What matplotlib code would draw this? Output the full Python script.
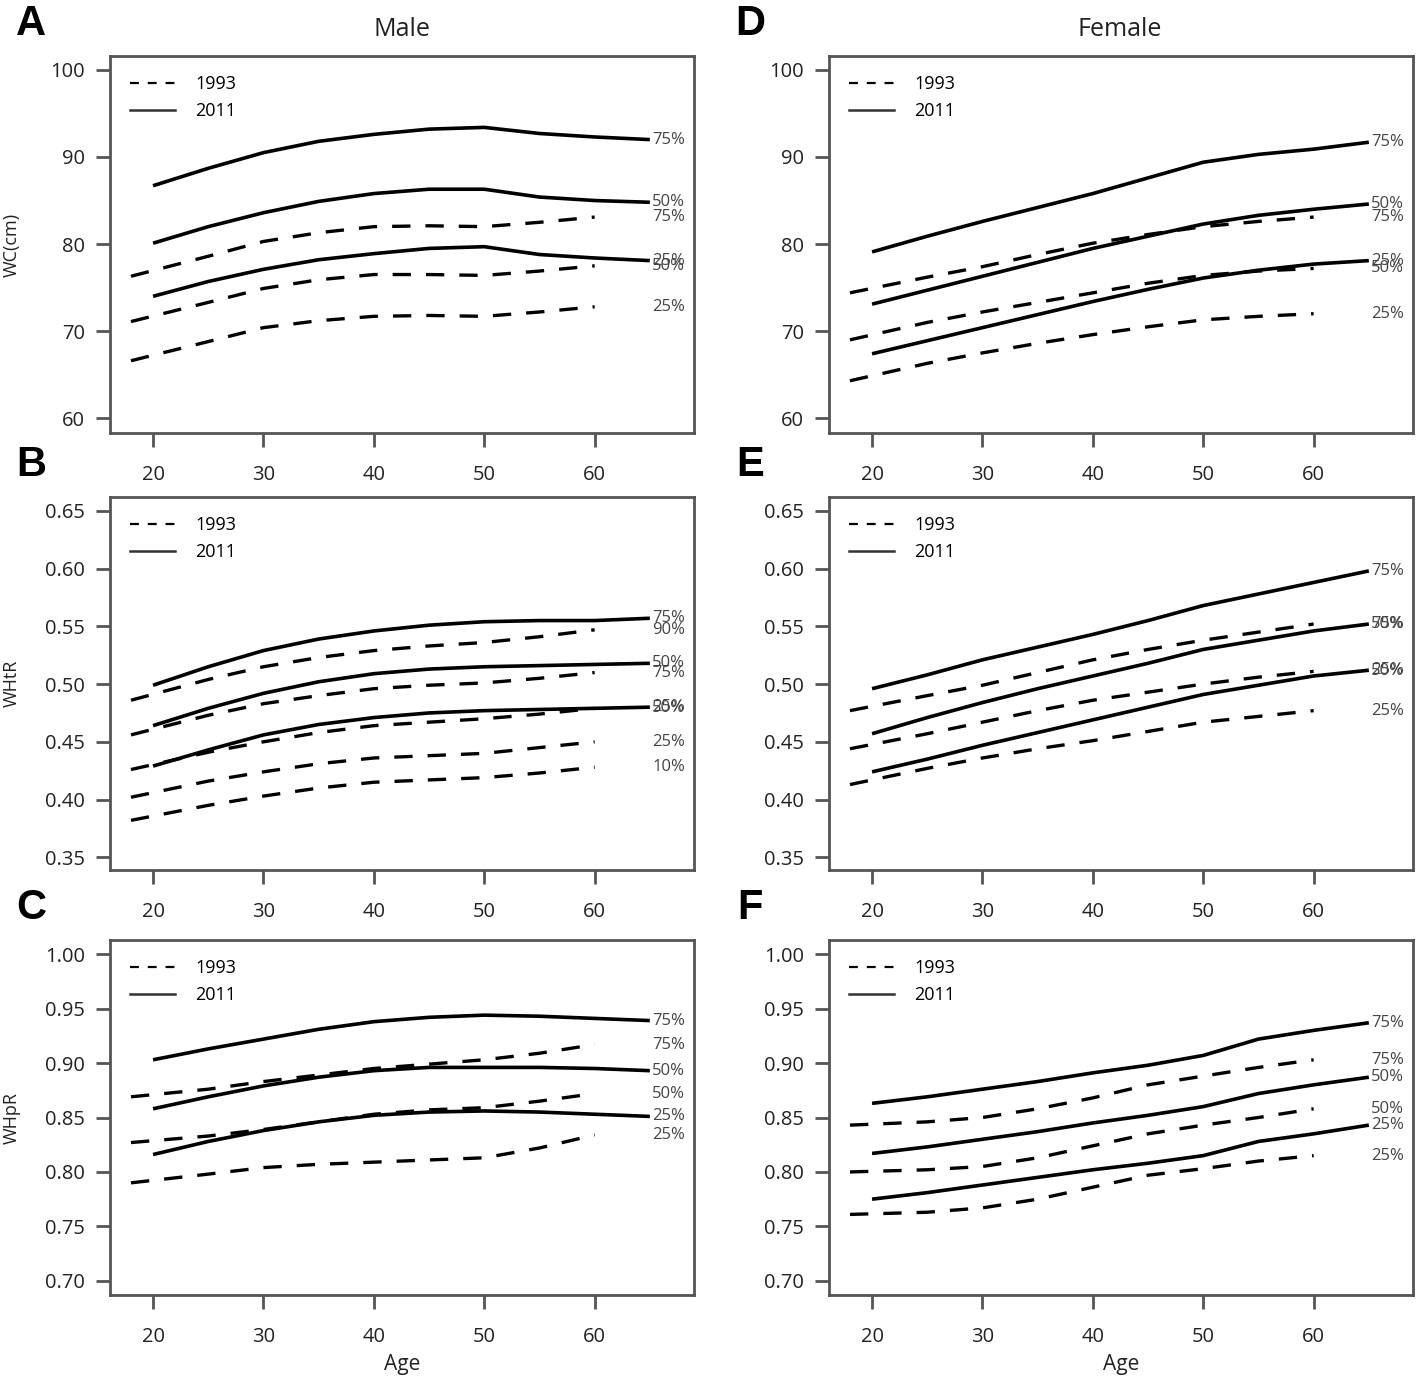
import matplotlib
matplotlib.use('Agg')
import matplotlib.pyplot as plt
from matplotlib.lines import Line2D

plt.rcParams['font.family'] = ['Open Sans', 'DejaVu Sans']

ages_2011 = [20, 25, 30, 35, 40, 45, 50, 55, 60, 65]
ages_1993 = [18, 25, 30, 35, 40, 45, 50, 55, 60]

# A: male waist circumference (cm)
male_wc_2011 = {
    '75%': [86.7, 88.7, 90.5, 91.8, 92.6, 93.2, 93.4, 92.7, 92.3, 92.0],
    '50%': [80.1, 82.0, 83.6, 84.9, 85.8, 86.3, 86.3, 85.4, 85.0, 84.8],
    '25%': [74.0, 75.7, 77.1, 78.2, 78.9, 79.5, 79.7, 78.8, 78.4, 78.1],
}
male_wc_1993 = {
    '75%': [76.3, 78.6, 80.3, 81.3, 82.0, 82.1, 82.0, 82.5, 83.1],
    '50%': [71.1, 73.3, 74.9, 75.9, 76.5, 76.5, 76.4, 76.9, 77.5],
    '25%': [66.6, 68.8, 70.4, 71.2, 71.7, 71.8, 71.7, 72.2, 72.8],
}

# B: male waist-to-height ratio
male_whtr_2011 = {
    '75%': [0.499, 0.515, 0.529, 0.539, 0.546, 0.551, 0.554, 0.555, 0.555, 0.557],
    '50%': [0.464, 0.479, 0.492, 0.502, 0.509, 0.513, 0.515, 0.516, 0.517, 0.518],
    '25%': [0.429, 0.443, 0.456, 0.465, 0.471, 0.475, 0.477, 0.478, 0.479, 0.480],
}
male_whtr_1993 = {
    '90%': [0.486, 0.504, 0.515, 0.523, 0.529, 0.533, 0.536, 0.541, 0.547],
    '75%': [0.456, 0.473, 0.483, 0.490, 0.496, 0.499, 0.501, 0.505, 0.510],
    '50%': [0.426, 0.441, 0.450, 0.458, 0.464, 0.467, 0.470, 0.474, 0.479],
    '25%': [0.402, 0.416, 0.424, 0.431, 0.436, 0.438, 0.440, 0.445, 0.450],
    '10%': [0.382, 0.395, 0.403, 0.410, 0.415, 0.417, 0.419, 0.423, 0.428],
}

# C: male waist-to-hip ratio
male_whpr_2011 = {
    '75%': [0.903, 0.913, 0.922, 0.931, 0.938, 0.942, 0.944, 0.943, 0.941, 0.939],
    '50%': [0.858, 0.869, 0.879, 0.887, 0.893, 0.896, 0.896, 0.896, 0.895, 0.893],
    '25%': [0.816, 0.828, 0.838, 0.846, 0.852, 0.855, 0.856, 0.855, 0.853, 0.851],
}
male_whpr_1993 = {
    '75%': [0.869, 0.876, 0.883, 0.889, 0.895, 0.899, 0.903, 0.909, 0.917],
    '50%': [0.827, 0.833, 0.839, 0.846, 0.853, 0.857, 0.859, 0.865, 0.872],
    '25%': [0.790, 0.798, 0.804, 0.807, 0.809, 0.811, 0.813, 0.822, 0.834],
}

# D: female waist circumference (cm)
female_wc_2011 = {
    '75%': [79.1, 80.9, 82.6, 84.2, 85.8, 87.6, 89.4, 90.3, 90.9, 91.7],
    '50%': [73.1, 74.7, 76.3, 77.9, 79.5, 80.9, 82.3, 83.3, 84.0, 84.6],
    '25%': [67.4, 68.9, 70.4, 71.9, 73.4, 74.8, 76.1, 77.0, 77.7, 78.1],
}
female_wc_1993 = {
    '75%': [74.4, 76.2, 77.4, 78.8, 80.1, 81.1, 82.0, 82.6, 83.1],
    '50%': [69.0, 71.0, 72.2, 73.3, 74.4, 75.5, 76.4, 76.9, 77.2],
    '25%': [64.3, 66.3, 67.5, 68.6, 69.6, 70.5, 71.3, 71.7, 72.0],
}

# E: female waist-to-height ratio
female_whtr_2011 = {
    '75%': [0.496, 0.508, 0.521, 0.532, 0.543, 0.555, 0.568, 0.578, 0.588, 0.598],
    '50%': [0.457, 0.471, 0.484, 0.496, 0.507, 0.518, 0.530, 0.538, 0.546, 0.552],
    '25%': [0.424, 0.435, 0.447, 0.458, 0.469, 0.480, 0.491, 0.499, 0.507, 0.512],
}
female_whtr_1993 = {
    '75%': [0.477, 0.490, 0.499, 0.510, 0.521, 0.530, 0.538, 0.545, 0.552],
    '50%': [0.444, 0.457, 0.467, 0.477, 0.486, 0.493, 0.500, 0.506, 0.511],
    '25%': [0.413, 0.427, 0.436, 0.444, 0.451, 0.459, 0.467, 0.472, 0.477],
}

# F: female waist-to-hip ratio
female_whpr_2011 = {
    '75%': [0.863, 0.869, 0.876, 0.883, 0.891, 0.898, 0.907, 0.922, 0.930, 0.937],
    '50%': [0.817, 0.823, 0.830, 0.837, 0.845, 0.852, 0.860, 0.872, 0.880, 0.887],
    '25%': [0.775, 0.781, 0.788, 0.795, 0.802, 0.808, 0.815, 0.828, 0.835, 0.843],
}
female_whpr_1993 = {
    '75%': [0.843, 0.846, 0.850, 0.858, 0.868, 0.880, 0.888, 0.896, 0.903],
    '50%': [0.800, 0.802, 0.805, 0.813, 0.824, 0.835, 0.843, 0.850, 0.858],
    '25%': [0.761, 0.763, 0.767, 0.775, 0.786, 0.797, 0.803, 0.810, 0.815],
}

x_ticks = [20, 30, 40, 50, 60]
wc_ticks = [60, 70, 80, 90, 100]
whtr_ticks = [0.35, 0.40, 0.45, 0.50, 0.55, 0.60, 0.65]
whpr_ticks = [0.70, 0.75, 0.80, 0.85, 0.90, 0.95, 1.00]


def draw_panel(ax, s2011, s1993, yticks, ylim, fmt):
    '''one panel: solid 2011 curves, dashed 1993 curves, end labels'''
    for lab, vals in s1993.items():
        ax.plot(ages_1993, vals, color='black', lw=2.4, linestyle=(0, (5.5, 4.5)),
                solid_capstyle='butt', dash_capstyle='butt')
        ax.text(65.2, vals[-1], lab, fontsize=12, color='#444444',
                ha='left', va='center', clip_on=False)
    for lab, vals in s2011.items():
        ax.plot(ages_2011, vals, color='black', lw=2.6, solid_capstyle='butt')
        ax.text(65.2, vals[-1], lab, fontsize=12, color='#444444',
                ha='left', va='center', clip_on=False)

    ax.set_xlim(16.1, 69.0)
    ax.set_ylim(*ylim)
    ax.set_xticks(x_ticks)
    ax.set_yticks(yticks)
    ax.set_yticklabels([fmt.format(t) for t in yticks])
    for sp in ax.spines.values():
        sp.set_linewidth(2.0)
        sp.set_color('#555555')
    ax.tick_params(axis='both', direction='out', length=10, width=2.0,
                   color='#555555', labelsize=14.5, labelcolor='#222222')
    ax.tick_params(axis='x', pad=13)
    ax.tick_params(axis='y', pad=8)

    handles = [Line2D([], [], color='black', lw=1.6, linestyle=(0, (4, 4))),
               Line2D([], [], color='#333333', lw=1.8)]
    ax.legend(handles, ['1993', '2011'], loc='upper left', frameon=False,
              fontsize=13, handlelength=2.5, handletextpad=1.1,
              borderaxespad=0.4, labelspacing=0.5, bbox_to_anchor=(0.01, 0.987))


def main():
    fig = plt.figure(figsize=(14.18, 13.83), dpi=100)

    W, H = 1418.0, 1383.0
    lefts = [110, 829]
    width = 584
    rows = [(56, 433), (497, 870), (940, 1295)]

    panels = [
        (male_wc_2011, male_wc_1993, wc_ticks, (58.3, 101.6), '{:.0f}'),
        (male_whtr_2011, male_whtr_1993, whtr_ticks, (0.339, 0.662), '{:.2f}'),
        (male_whpr_2011, male_whpr_1993, whpr_ticks, (0.687, 1.013), '{:.2f}'),
        (female_wc_2011, female_wc_1993, wc_ticks, (58.3, 101.6), '{:.0f}'),
        (female_whtr_2011, female_whtr_1993, whtr_ticks, (0.339, 0.662), '{:.2f}'),
        (female_whpr_2011, female_whpr_1993, whpr_ticks, (0.687, 1.013), '{:.2f}'),
    ]
    letters = ['A', 'B', 'C', 'D', 'E', 'F']
    ylabels = ['WC(cm)', 'WHtR', 'WHpR']

    for i, (s2011, s1993, yt, yl, fmt) in enumerate(panels):
        col = i // 3
        row = i % 3
        top, bot = rows[row]
        ax = fig.add_axes([lefts[col] / W, 1 - bot / H, width / W, (bot - top) / H])
        draw_panel(ax, s2011, s1993, yt, yl, fmt)

        fig.text((lefts[col] - 79) / W, 1 - (top - 32) / H, letters[i],
                 fontsize=30, fontweight='bold', ha='center', va='center',
                 family=['Liberation Sans', 'DejaVu Sans'])
        if col == 0:
            fig.text(12 / W, 1 - (top + bot) / 2 / H, ylabels[row], fontsize=13,
                     rotation=90, ha='center', va='center', color='#222222')
        if row == 2:
            ax.set_xlabel('Age', fontsize=15, labelpad=5, color='#222222')

    fig.text(402 / W, 1 - 30 / H, 'Male', fontsize=18, ha='center', va='center',
             color='#222222')
    fig.text(1120 / W, 1 - 30 / H, 'Female', fontsize=18, ha='center', va='center',
             color='#222222')

    fig.savefig('out.png', dpi=100)


if __name__ == '__main__':
    main()
